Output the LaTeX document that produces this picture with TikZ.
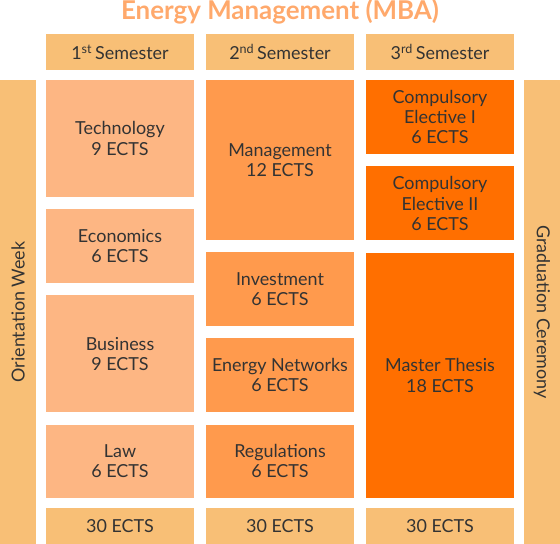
\documentclass[tikz,border=0pt]{standalone}
\usepackage{fontspec}
\setmainfont{Lato}
\usetikzlibrary{positioning}

\definecolor{headfill}{HTML}{F8BF76}
\definecolor{firstfill}{HTML}{FDB683}
\definecolor{secondfill}{HTML}{FF9A4D}
\definecolor{thirdfill}{HTML}{FF6F00}
\definecolor{titleorange}{HTML}{FFA96C}
\definecolor{textgray}{HTML}{333333}

\begin{document}
\begin{tikzpicture}[
            x=1bp, y=1bp,
            node distance=12.5bp,
            box/.style={inner sep=0pt, outer sep=0pt, minimum width=148bp, align=center, text=textgray, font=\fontsize{18}{20.5}\selectfont},
            head/.style={box, fill=headfill, minimum height=36bp},
            firstbox/.style={box, fill=firstfill},
            secondbox/.style={box, fill=secondfill},
            thirdbox/.style={box, fill=thirdfill},
            side/.style={box, fill=headfill, minimum width=464bp, minimum height=36bp}
        ]
            \useasboundingbox (0,0) rectangle (560,544);
            \node[font=\bfseries\fontsize{26}{28}\selectfont, text=titleorange] (title) at (280,532) {Energy Management (MBA)};
            % semester headers
            \node[head] (sem1) at (120,492) {1\textsuperscript{st}\,Semester};
\node[head] (sem2) at (280,492) {2\textsuperscript{nd}\,Semester};
            \node[head] (sem3) at (440,492) {3\textsuperscript{rd}\,Semester};
            % side bars
            \node[side, rotate=90] (orient) at (18,232) {Orientation Week};
\node[side, rotate=-90] (grad) at (542,232) {Graduation Ceremony};
            % first semester
            \node[firstbox, minimum height=117bp, anchor=north] (tech) at (120,464) {Technology\\9 ECTS};
            \node[firstbox, minimum height=73.5bp, below=of tech] (econ) {Economics\\6 ECTS};
\node[firstbox, minimum height=116.5bp, below=of econ] (business) {Business\\9 ECTS};
            \node[firstbox, minimum height=73.5bp, below=of business] (law) {Law\\6 ECTS};
            % second semester
            \node[secondbox, minimum height=160bp, anchor=north] (mgmt) at (280,464) {Management\\12 ECTS};
            \node[secondbox, minimum height=73.5bp, below=of mgmt] (invest) {Investment\\6 ECTS};
\node[secondbox, minimum height=73.5bp, below=of invest] (networks) {Energy Networks\\6 ECTS};
            \node[secondbox, minimum height=73.5bp, below=of networks] (regul) {Regulations\\6 ECTS};
            % third semester
            \node[thirdbox, minimum height=74bp, anchor=north] (elect1) at (440,464) {Compulsory\\Elective I\\6 ECTS};
            \node[thirdbox, minimum height=74bp, below=of elect1] (elect2) {Compulsory\\Elective II\\6 ECTS};
\node[thirdbox, minimum height=245bp, below=of elect2] (thesis) {Master Thesis\\18 ECTS};
            % totals
            \node[head] (total1) at (120,18) {30 ECTS};
            \node[head] (total2) at (280,18) {30 ECTS};
\node[head] (total3) at (440,18) {30 ECTS};
        \end{tikzpicture}
\end{document}
